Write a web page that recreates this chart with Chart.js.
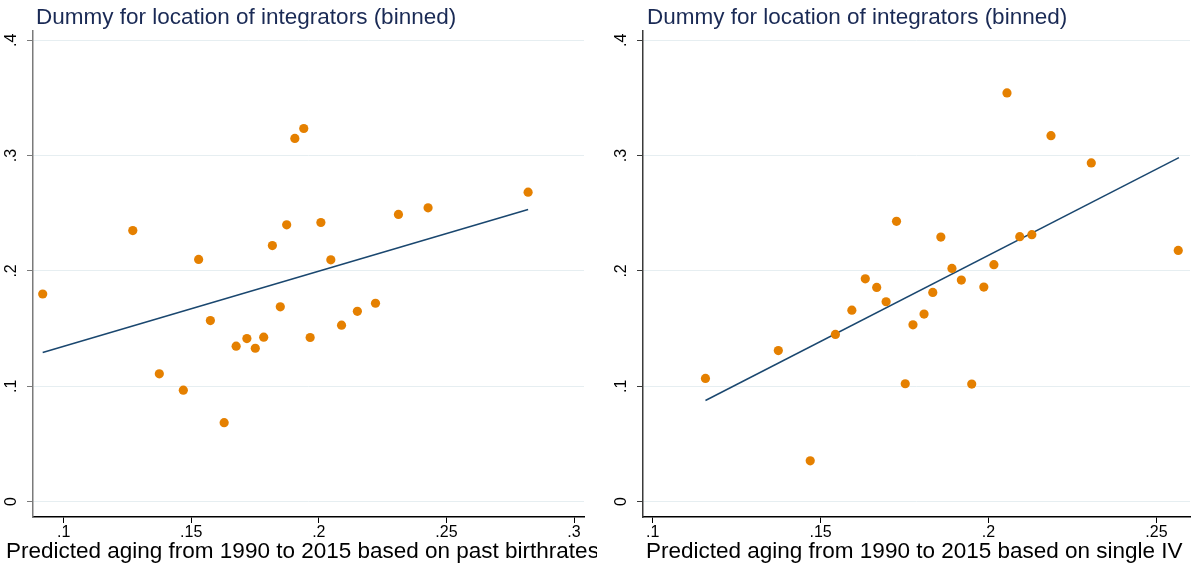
<!DOCTYPE html>
<html lang="en">
<head>
    <meta charset="UTF-8">
    <title>Dummy for location of integrators (binned)</title>
    <script src="https://cdn.jsdelivr.net/npm/chart.js"></script>
    <style>
        body { margin: 0; background: #fff; }
        .row { display: flex; width: 1195px; height: 567px; }
        canvas { display: block; }
    </style>
</head>
<body>
    <div class="row">
        <canvas id="left-chart" width="597" height="567"></canvas>
        <canvas id="right-chart" width="598" height="567"></canvas>
    </div>

    <script>
        // binned scatter, left panel (past birthrates)
        const leftX = [0.0918, 0.1271, 0.1375, 0.1469, 0.1529, 0.1575, 0.1629, 0.1676, 0.1718, 0.1751,
                       0.1784, 0.1818, 0.1849, 0.1874, 0.1906, 0.1941, 0.1966, 0.2008, 0.2047, 0.2089,
                       0.2151, 0.2222, 0.2312, 0.2428, 0.2820];
        const leftY = [0.180, 0.235, 0.1108, 0.0966, 0.210, 0.157, 0.0685, 0.1348, 0.1414, 0.133,
                       0.1426, 0.222, 0.1689, 0.240, 0.3149, 0.3235, 0.1423, 0.242, 0.2096, 0.153,
                       0.165, 0.172, 0.249, 0.2547, 0.2683];
        const leftFitX = [0.0918, 0.2820];
        const leftFitY = [0.1293, 0.2533];

        // right panel (single IV)
        const rightX = [0.1157, 0.1374, 0.1469, 0.1544, 0.1593, 0.1633, 0.1667, 0.1695, 0.1726, 0.1752,
                        0.1775, 0.1808, 0.1834, 0.1858, 0.1891, 0.1919, 0.1950, 0.1986, 0.2016, 0.2055,
                        0.2093, 0.2129, 0.2186, 0.2306, 0.2565];
        const rightY = [0.1068, 0.131, 0.0354, 0.145, 0.166, 0.1932, 0.1857, 0.1733, 0.243, 0.1022,
                        0.1533, 0.1626, 0.1814, 0.2294, 0.2022, 0.1921, 0.1019, 0.186, 0.2054, 0.3543,
                        0.2297, 0.2314, 0.3173, 0.2936, 0.2178];
        const rightFitX = [0.1157, 0.2567];
        const rightFitY = [0.0877, 0.2982];

        const leftXTicks = [0.1, 0.15, 0.2, 0.25, 0.3];
        const rightXTicks = [0.1, 0.15, 0.2, 0.25];
        const yTicks = [0, 0.1, 0.2, 0.3, 0.4];

        const FONT = '"Liberation Sans", Arial, Helvetica, sans-serif';

        // stata style labels: .1 .15 0
        function fmt(v) {
            if (v === 0) return '0';
            return String(v).replace(/^0/, '');
        }

        // title, x title and rotated y labels
        const stataText = {
            id: 'stataText',
            afterDraw(chart, args, o) {
                const ctx = chart.ctx;
                const area = chart.chartArea;
                const ys = chart.scales.y;
                ctx.save();
                ctx.textBaseline = 'alphabetic';
                ctx.textAlign = 'left';
                ctx.font = '22.5px ' + FONT;
                ctx.fillStyle = '#1a2a55';
                ctx.fillText(o.title, area.left + o.titleDx, 23.5);
                ctx.fillStyle = '#000';
                ctx.fillText(o.xTitle, o.xTitleX, 558);

                ctx.font = '16px ' + FONT;
                ctx.textAlign = 'center';
                ctx.textBaseline = 'middle';
                ys.ticks.forEach(t => {
                    const py = ys.getPixelForValue(t.value);
                    ctx.save();
                    ctx.translate(area.left - 21, py);
                    ctx.rotate(-Math.PI / 2);
                    ctx.fillText(fmt(t.value), 0, 0);
                    ctx.restore();
                });
                ctx.restore();
            }
        };

        function makeChart(id, cfg) {
            const pts = cfg.xs.map((x, i) => ({ x: x, y: cfg.ys[i] }));
            const fit = cfg.fitX.map((x, i) => ({ x: x, y: cfg.fitY[i] }));
            return new Chart(document.getElementById(id), {
                type: 'scatter',
                data: {
                    datasets: [
                        {
                            data: pts,
                            backgroundColor: '#e58000',
                            borderWidth: 0,
                            pointRadius: 4.6,
                            order: 1
                        },
                        {
                            type: 'line',
                            data: fit,
                            borderColor: '#1a476f',
                            borderWidth: 1.5,
                            pointRadius: 0,
                            fill: false,
                            order: 2
                        }
                    ]
                },
                options: {
                    responsive: false,
                    animation: false,
                    layout: { padding: { top: 31, right: cfg.padRight, left: 0, bottom: 0 } },
                    plugins: {
                        legend: { display: false },
                        tooltip: { enabled: false },
                        stataText: { title: cfg.title, xTitle: cfg.xTitle, titleDx: cfg.titleDx, xTitleX: cfg.xTitleX }
                    },
                    scales: {
                        x: {
                            type: 'linear',
                            min: cfg.xMin,
                            max: cfg.xMax,
                            afterBuildTicks: s => { s.ticks = cfg.xTicks.map(v => ({ value: v })); },
                            afterFit: s => { s.height = 50; },
                            ticks: {
                                autoSkip: false,
                                maxRotation: 0,
                                padding: 0,
                                color: '#000',
                                font: { family: FONT, size: 16 },
                                callback: v => fmt(v)
                            },
                            grid: { drawOnChartArea: false, tickLength: 6, tickColor: '#000' },
                            border: { color: '#000', width: 1.5 }
                        },
                        y: {
                            type: 'linear',
                            min: -0.0133,
                            max: 0.408,
                            afterBuildTicks: s => { s.ticks = yTicks.map(v => ({ value: v })); },
                            afterFit: s => { s.width = cfg.yWidth; },
                            ticks: { display: false },
                            grid: { color: '#e6eef1', lineWidth: 1, tickLength: 6, tickColor: cfg.yAxisColor },
                            border: { color: cfg.yAxisColor, width: 1.5 }
                        }
                    }
                },
                plugins: [stataText]
            });
        }

        makeChart('left-chart', {
            xs: leftX, ys: leftY, fitX: leftFitX, fitY: leftFitY,
            xMin: 0.088, xMax: 0.3039, xTicks: leftXTicks,
            yWidth: 33, padRight: 13, yAxisColor: '#7a7a7a',
            title: 'Dummy for location of integrators (binned)', titleDx: 3,
            xTitle: 'Predicted aging from 1990 to 2015 based on past birthrates', xTitleX: 6
        });

        makeChart('right-chart', {
            xs: rightX, ys: rightY, fitX: rightFitX, fitY: rightFitY,
            xMin: 0.0971, xMax: 0.26, xTicks: rightXTicks,
            yWidth: 46, padRight: 5, yAxisColor: '#3a3a3a',
            title: 'Dummy for location of integrators (binned)', titleDx: 4,
            xTitle: 'Predicted aging from 1990 to 2015 based on single IV', xTitleX: 49
        });
    </script>
</body>
</html>
